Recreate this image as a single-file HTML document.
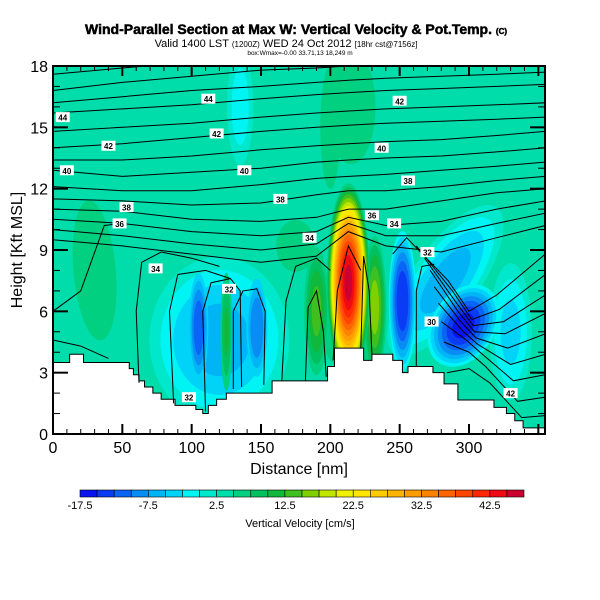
<!DOCTYPE html>
<html><head><meta charset="utf-8">
<style>
body{margin:0;background:#fff;width:600px;height:600px;overflow:hidden}
svg{display:block}
text{font-family:"Liberation Sans",Arial,sans-serif}
</style></head>
<body>
<svg id="chart" width="600" height="600" viewBox="0 0 600 600" xmlns="http://www.w3.org/2000/svg">
<text x="296" y="34" text-anchor="middle" font-size="14" font-weight="bold" stroke="#000" stroke-width="0.5">Wind-Parallel Section at Max W: Vertical Velocity &amp; Pot.Temp. <tspan font-size="8">(C)</tspan></text>
<text x="286" y="47" text-anchor="middle" font-size="11">Valid 1400 LST <tspan font-size="8">(1200Z)</tspan> WED 24 Oct 2012 <tspan font-size="8">[18hr cst@7156z]</tspan></text>
<text x="300" y="55" text-anchor="middle" font-size="6.5">box:Wmax=-0.00 33.71,13 18,249 m</text>
<defs><clipPath id="pc"><rect x="53" y="66" width="492" height="368"/></clipPath></defs>
<g id="field" clip-path="url(#pc)"></g>
<g id="terrain" clip-path="url(#pc)"></g>
<g id="contours" clip-path="url(#pc)"></g>
<g id="axes"></g>
<g id="colorbar"></g>
<text x="299" y="474" text-anchor="middle" font-size="16">Distance [nm]</text>
<text transform="translate(22,250) rotate(-90)" text-anchor="middle" font-size="16">Height [Kft MSL]</text>
<text x="300" y="527" text-anchor="middle" font-size="11">Vertical Velocity [cm/s]</text>
</svg>
<script>
// ---- data ----
const binEdges = [-17.5,-15,-12.5,-10,-7.5,-5,-2.5,0,2.5,5,7.5,10,12.5,15,17.5,20,22.5,25,27.5,30,32.5,35,37.5,40,42.5,45,47.5];
const binColors = ["#0a14f0","#0a3cf5","#0a64f5","#0a8cf5","#00b4f5","#00d2f8","#00f4f4","#00e8cc","#00dcaa","#00d080","#00c060","#10b83c","#40c020","#80d000","#c0e600","#f0f000","#ffe600","#ffcc00","#ffb400","#ff9c00","#ff8200","#ff6400","#ff4600","#ff2800","#f00a14","#cc0030"];
const colorbarTicks = [-17.5,-7.5,2.5,12.5,22.5,32.5,42.5];
const xTicks = [0,50,100,150,200,250,300];
const yTicks = [0,3,6,9,12,15,18];
const baseValue = 3;
// w features: distance (nm), height (kft), half-width (nm), half-height (kft), peak (cm/s), start level, tilt (deg)
const featDist   = [120, 30, 175, 283, 330, 135, 215, 215, 200, 105, 147, 125, 190, 232, 252, 296, 213];
const featHeight = [4.6, 8,  9.2, 7.5, 5.0, 16,  16,  5.8, 15,  5.2, 5.2, 5.0, 6.0, 6.2, 6.5, 5.3, 7.4];
const featRx     = [52,  20, 20,  25,  16,  10,  25,  30,  12,  9,   10,  5,   10,  9,   11,  25,  16];
const featRy     = [4.2, 4.5,1.8, 4.5, 3.5, 3,   4,   3.5, 5,   3.4, 3.2, 3.4, 3.5, 3.8, 3.8, 2.4, 5.0];
const featPeak   = [-6,  7,  6,   -6,  -3,  -1,  6,   8,   5,   -12, -10, 10,  13,  16,  -15, -16, 46];
const featStart  = [3,   3,  3,   3,   3,   3,   3,   3,   3,   -2.5,-2.5,3,   3,   3,   0,   0,   5];
const featTilt   = [0,   -5, 0,   35,  0,   0,   0,   0,   0,   0,   0,   0,   0,   0,   0,   33,  0];
// terrain profile (distance nm, height kft)
const terrDist = [0,12,22,53,55,58,62,66,72,78,88,103,108,112,118,125,132,158,198,203,224,230,245,252,256,274,282,292,318,327,333,339,355];
const terrH    = [3.5,3.9,3.5,3.5,3.2,2.9,2.6,2.3,2.0,1.7,1.4,1.2,1.0,1.4,1.7,2.0,2.0,2.6,3.3,4.2,3.6,3.9,3.6,3.0,3.3,3.0,2.45,1.66,1.3,1.0,0.65,0.3,0.3];
// potential temperature contours (upper, continuous)
const contourDist = [0,50,100,150,190,213,240,280,320,355];
const contourH = [
 [17.6,17.9,18.2,18.4,18.6,18.7,18.8,18.9,19,19],
 [16.8,17.2,17.5,17.8,17.9,18.0,18.1,18.2,18.3,18.4],
 [16.2,16.5,16.8,17.0,17.2,17.3,17.4,17.5,17.6,17.7],
 [15.7,15.9,16.1,16.4,16.6,16.7,16.8,16.9,17.0,17.1],
 [14.8,15.0,15.2,15.5,15.7,15.8,15.9,16.0,16.1,16.2],
 [14.0,14.2,14.5,14.8,15.0,15.1,15.2,15.3,15.4,15.5],
 [13.4,13.4,13.6,13.9,14.1,14.2,14.3,14.4,14.6,14.8],
 [12.9,12.6,12.8,13.0,13.3,13.4,13.5,13.6,13.8,14.0],
 [12.1,11.9,11.9,12.2,12.5,12.6,12.7,12.9,13.1,13.3],
 [11.5,11.4,11.2,11.3,11.7,11.9,11.9,12.1,12.4,12.6],
 [11.0,10.9,10.5,10.4,10.6,11.0,11.0,11.4,11.8,12.0],
 [10.5,10.3,9.9,9.7,9.9,10.6,10.2,10.4,11.0,11.4],
 [10.0,9.7,9.3,9.0,9.3,10.3,9.7,9.7,10.3,10.8],
 [9.5,9.2,8.8,8.4,8.7,9.9,9.2,8.9,9.6,10.2]
];
// lower contour segments as [distance, height] pairs
const lowContours = [
 [[0,6],[20,7],[28,8.5],[37,10.2],[50,10.3]],
 [[0,4.6],[20,4.3],[40,3.7]],
 [[62,2.5],[60,6],[64,8.4],[78,8.9],[100,8.6],[120,8.2]],
 [[87,1.5],[84,6],[90,7.8],[110,8.0],[128,7.6]],
 [[110,1.1],[108,6],[114,7.4],[128,7.6],[135,7],[136,2.3]],
 [[130,2.2],[130,6],[137,7.0],[147,7.1],[153,6],[152,2.4]],
 [[165,2.6],[168,6.5],[175,8.2],[190,8.6],[200,8.0]],
 [[182,2.6],[184,6.2],[190,7.0],[195,5],[197,2.8]],
 [[222,4.2],[224,8.7],[228,7],[230,3.9]],
 [[202,3.6],[205,7],[213,9.2],[222,8.0]],
 [[262,3.3],[262,7],[266,8.2],[275,8.3]],
 [[245,8.8],[255,9.6],[285,7.5],[300,6.0],[320,6.8],[355,8.8]],
 [[262,9.2],[288,7.0],[302,5.6],[322,6.1],[355,7.8]],
 [[268,8.6],[290,6.5],[303,5.3],[325,5.5],[355,6.8]],
 [[272,8.0],[292,6.0],[304,5.0],[326,4.9],[355,5.9]],
 [[275,7.2],[294,5.5],[305,4.7],[328,4.2],[355,4.9]],
 [[278,6.4],[296,5.0],[306,4.4],[330,3.4],[355,3.9]],
 [[280,5.5],[298,4.6],[308,4.0],[332,2.6],[355,2.9]],
 [[282,4.5],[300,4.0],[312,3.3],[335,1.6],[355,1.8]],
 [[284,3.0],[300,3.2],[315,2.5],[338,0.8],[355,0.9]]
];
const labelText = ["44","42","40","44","42","40","38","38","36","34","32","34","42","40","38","36","34","32","30","32","42"];
const labelDist = [7,40,10,112,118,138,164,53,48,74,127,185,250,237,256,230,246,270,273,98,330];
const labelHgt  = [15.5,14.1,12.9,16.4,14.7,12.9,11.5,11.1,10.3,8.1,7.1,9.6,16.3,14.0,12.4,10.7,10.3,8.9,5.5,1.8,2.0];

// ---- scales ----
const X = d => 53 + d * (416/300);
const Y = h => 434 - h * (368/18);
const NS = "http://www.w3.org/2000/svg";
function mk(tag, attrs, parent){const e=document.createElementNS(NS,tag);for(const k in attrs)e.setAttribute(k,attrs[k]);parent.appendChild(e);return e;}
function colorOf(v){for(let i=0;i<binColors.length;i++){if(v<binEdges[i+1])return binColors[i];}return binColors[binColors.length-1];}

// field
const field = document.getElementById('field');
const bg = mk('rect',{x:53,y:66,width:492,height:368,fill:colorOf(baseValue)},field);


featDist.forEach((d,i)=>{
  const peak = featPeak[i], start = featStart[i];
  const g = mk('g',{transform:`rotate(${featTilt[i]} ${X(d)} ${Y(featHeight[i])})`},field);
  
  
  const levels = [];
  if(peak>baseValue){for(const e of binEdges){if(e>baseValue && e>=start && e<=peak)levels.push(e);}}
  else {for(const e of binEdges.slice().reverse()){if(e<baseValue-0.01 && e<=start && e>peak)levels.push(e-0.01);}}
  const span = Math.abs(peak-baseValue)+1.5;
  levels.forEach(lv=>{
    const s = Math.pow(Math.max(0,Math.abs(peak-lv)+1.5)/span,0.6);
    const v = peak>baseValue ? lv+0.01 : lv;
    mk('ellipse',{cx:X(d),cy:Y(featHeight[i]),rx:featRx[i]*(416/300)*s,ry:featRy[i]*(368/18)*s,fill:colorOf(v)},g);
  });
});

// terrain
let tp = `M${X(0)},${Y(-1)} L${X(0)},${Y(terrH[0])}`;
for(let i=1;i<terrDist.length;i++){tp+=` L${X(terrDist[i])},${Y(terrH[i-1])} L${X(terrDist[i])},${Y(terrH[i])}`;}
tp += ` L${X(360)},${Y(terrH[terrH.length-1])} L${X(360)},${Y(-1)} Z`;
const terr = mk('path',{d:tp,fill:'#fff',stroke:'#000','stroke-width':1},document.getElementById('terrain'));



// contours
const cg = document.getElementById('contours');
contourH.forEach((hs)=>{
  const pts = contourDist.map((d,j)=>`${X(d).toFixed(1)},${Y(hs[j]).toFixed(1)}`);
  const p = mk('polyline',{points:pts.join(' '),fill:'none',stroke:'#000','stroke-width':1},cg);
  
  
});
lowContours.forEach((seg)=>{
  const pts = seg.map(q=>`${X(q[0]).toFixed(1)},${Y(q[1]).toFixed(1)}`);
  const p = mk('polyline',{points:pts.join(' '),fill:'none',stroke:'#000','stroke-width':1},cg);
  
  
});
labelText.forEach((t,i)=>{
  const d = labelDist[i], h = labelHgt[i];
  const r = mk('rect',{x:X(d)-7,y:Y(h)-5,width:14,height:10,fill:'#fff'},cg);
  
  
  const tx = mk('text',{x:X(d),y:Y(h)+3.5,'text-anchor':'middle','font-size':8,'font-weight':'bold'},cg);
  tx.textContent=t;
  
  
});

// axes
const ax = document.getElementById('axes');
const frame = mk('rect',{x:53,y:66,width:492,height:368,fill:'none',stroke:'#000','stroke-width':2},ax);


for(let d=10; d<355; d+=10){
  const major = d%50===0;
  const L = major?10:5;
  mk('line',{x1:X(d),x2:X(d),y1:434,y2:434-L,stroke:'#000','stroke-width':major?2:1},ax);
  mk('line',{x1:X(d),x2:X(d),y1:66,y2:66+L,stroke:'#000','stroke-width':major?2:1},ax);
}
for(let h=1; h<18; h++){
  const major = h%3===0;
  const L = major?15:7;
  mk('line',{x1:53,x2:53+L,y1:Y(h),y2:Y(h),stroke:'#000','stroke-width':major?2:1},ax);
  mk('line',{x1:545,x2:545-L,y1:Y(h),y2:Y(h),stroke:'#000','stroke-width':major?2:1},ax);
}
xTicks.forEach(v=>{
  const t = mk('text',{x:X(v),y:453,'text-anchor':'middle','font-size':16},ax);
  t.textContent=v;
  
  
});
yTicks.forEach(v=>{
  const t = mk('text',{x:48,y:Y(v)+6,'text-anchor':'end','font-size':16},ax);
  t.textContent=v;
  
  
});

// colorbar
const cb = document.getElementById('colorbar');
const cbX = v => 80 + (v - binEdges[0]) * (444/(binEdges[binEdges.length-1]-binEdges[0]));
binColors.forEach((c,i)=>{
  const r = mk('rect',{x:cbX(binEdges[i]),y:490,width:cbX(binEdges[i+1])-cbX(binEdges[i]),height:7,fill:c,stroke:'#000','stroke-width':0.6},cb);
  
  
});
colorbarTicks.forEach(v=>{
  const t = mk('text',{x:cbX(v),y:509,'text-anchor':'middle','font-size':11},cb);
  t.textContent=v;
  
  
});
</script>
</body></html>
